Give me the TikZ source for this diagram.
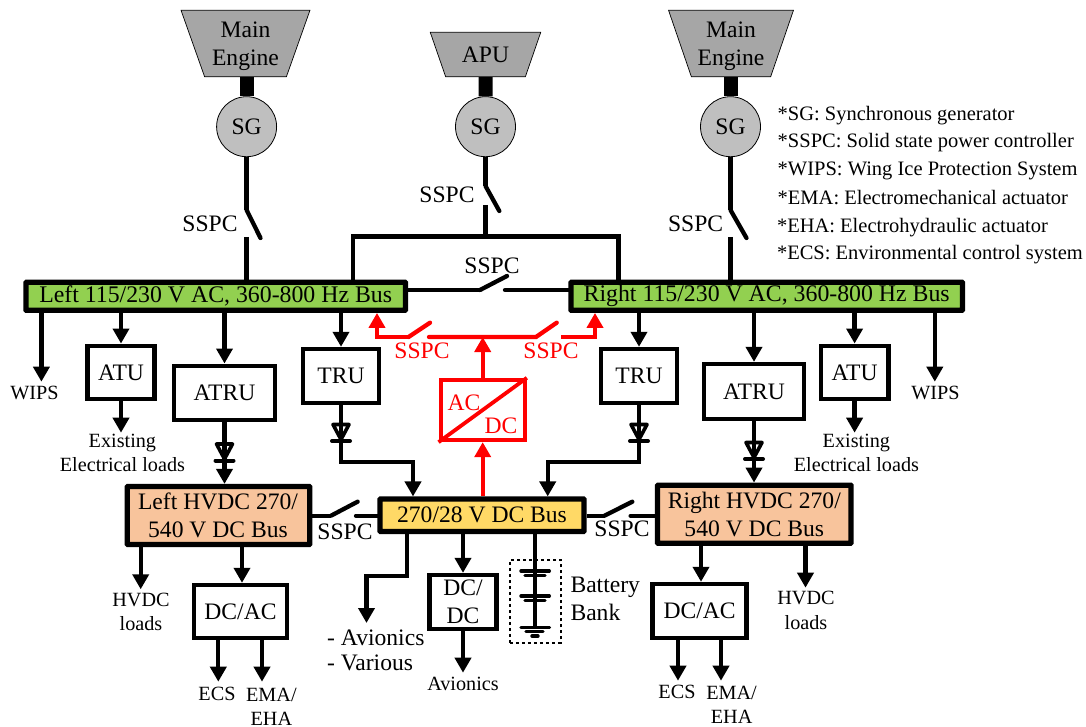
\documentclass[tikz,border=0pt]{standalone}
\usepackage{fontspec}
\setmainfont{Liberation Serif}
\usetikzlibrary{arrows.meta,shapes.geometric}
\definecolor{busgreen}{HTML}{92D050}
\definecolor{busorange}{HTML}{F8C49C}
\definecolor{busyellow}{HTML}{FFD966}
\definecolor{enggray}{HTML}{A6A6A6}
\definecolor{sggray}{HTML}{BFBFBF}
\tikzset{
  big/.style={font=\fontsize{23.6}{28}\selectfont,inner sep=0pt,align=center},
  small/.style={font=\fontsize{20.2}{24.5}\selectfont,inner sep=0pt,align=center},
  legend/.style={font=\fontsize{20.5}{24}\selectfont,inner sep=0pt,anchor=base west},
  wire/.style={line width=4.3pt,line cap=butt},
  arr/.style={wire,-{Triangle[length=15pt,width=16pt]}},
  redwire/.style={wire,red},
  redarr/.style={arr,red},
  conv/.style={big,draw,line width=4.3pt,fill=white,rectangle},
  bus/.style={big,draw,line width=5.2pt,rectangle,rounded corners=0.5pt},
  engine/.style={big,draw,line width=0.7pt,fill=enggray,trapezium,shape border rotate=180,
    trapezium stretches=true},
  gen/.style={big,draw,line width=0.8pt,fill=sggray,circle,minimum size=60pt},
  shaft/.style={line width=14pt},
  diodeline/.style={line width=3.6pt},
  battbar/.style={line width=3.4pt,line cap=round},
}
% diode: centre x, top y
\newcommand{\diodeat}[2]{%
  \draw[diodeline,line join=round] (#1-8,#2) -- (#1+8,#2) -- (#1,#2+15) -- cycle;
  \draw[diodeline,line width=4pt,line cap=round] (#1-9,#2+16.5) -- (#1+9,#2+16.5);}
\begin{document}
\begin{tikzpicture}[x=1pt,y=-1pt]
\useasboundingbox (0,0) rectangle (1086,727);
% Engines
\node[engine,trapezium left angle=68.4,trapezium right angle=68.4,minimum width=129pt,minimum height=66.5pt] (engL) at (245.5,43.6) {\phantom{Main}\\\phantom{Engine}};
\node[big] (engLt) at (245.5,46) {Main\\Engine};
\node[engine,trapezium left angle=60,trapezium right angle=60,minimum width=111pt,minimum height=44.5pt] (apu) at (485.5,54.6) {APU};
\node[engine,trapezium left angle=68.4,trapezium right angle=68.4,minimum width=125pt,minimum height=66.5pt] (engR) at (731,43.6) {\phantom{Main}\\\phantom{Engine}};
\node[big] (engRt) at (731,46) {Main\\Engine};
\node[gen] (sgL) at (246.6,126.7) {SG};
\node[gen] (sgA) at (485.5,126.7) {SG};
\node[gen] (sgR) at (730.5,126.7) {SG};
\draw[shaft] (sgL.north |- engL.south) -- (sgL.north);
\draw[shaft] (apu.south) -- (sgA.north);
\draw[shaft] (sgR.north |- engR.south) -- (sgR.north);
% Buses
\node[bus,fill=busgreen,minimum width=379.5pt,minimum height=28pt] (busL) at (215.7,296.3) {\fontsize{23.8}{28}\selectfont\raisebox{-1.5pt}{Left 115/230 V AC, 360-800 Hz Bus}};
\node[bus,fill=busgreen,minimum width=391.5pt,minimum height=28pt] (busR) at (766.7,296.3) {\fontsize{23.8}{28}\selectfont\raisebox{-1.5pt}{Right 115/230 V AC, 360-800 Hz Bus}};
\node[bus,fill=busorange,minimum width=182.5pt,minimum height=58pt] (hvL) at (218.5,515.5) {};
\node[big] (hvLt) at (218,515.3) {Left HVDC 270/\\540 V DC Bus};
\node[bus,fill=busorange,minimum width=193.5pt,minimum height=58pt] (hvR) at (754.3,514.2) {};
\node[big] (hvRt) at (754.3,514) {Right HVDC 270/\\540 V DC Bus};
\node[bus,fill=busyellow,minimum width=204pt,minimum height=32.5pt] (busD) at (482,515.3) {\raisebox{-1.5pt}{270/28 V DC Bus}};
% Converters
\node[conv,minimum width=67pt,minimum height=53.6pt] (atuL) at (121,372.5) {ATU};
\node[conv,minimum width=100.5pt,minimum height=54.3pt] (atruL) at (224.5,392.8) {ATRU};
\node[conv,minimum width=76pt,minimum height=53.7pt] (truL) at (341,375.8) {TRU};
\node[conv,minimum width=75.6pt,minimum height=53.7pt] (truR) at (639,375.8) {TRU};
\node[conv,minimum width=100pt,minimum height=55pt] (atruR) at (754,391.5) {ATRU};
\node[conv,minimum width=67.6pt,minimum height=53.6pt] (atuR) at (854.6,372.5) {ATU};
\node[conv,minimum width=93.2pt,minimum height=52.7pt] (dcacL) at (240.5,611.3) {DC/AC};
\node[conv,minimum width=94pt,minimum height=53.7pt] (dcacR) at (699.6,610.8) {DC/AC};
\node[conv,minimum width=67.2pt,minimum height=54pt] (dcdc) at (463,602) {DC/\\DC};
\node[conv,draw=red,minimum width=84pt,minimum height=60pt] (acdc) at (482.7,410) {};
\draw[line width=3.8pt,red] (acdc.north east) -- (acdc.south west);
\node[big,red] (acT) at (464,402.7) {AC};
\node[big,red] (dcT) at (501,426) {DC};
% Generator lines and switches
\coordinate (swLa) at (246.6,210); \coordinate (swLb) at (260.5,238); \coordinate (swLc) at (246.6,237);
\draw[wire] (sgL.south) -- (swLa); \draw[wire,line cap=round] (swLa) -- (swLb); \draw[wire] (swLc) -- (swLc |- busL.north);
\coordinate (swAa) at (485.5,186); \coordinate (swAb) at (499.3,211); \coordinate (swAc) at (485.5,205); \coordinate (apuJ) at (485.5,236.5);
\draw[wire] (sgA.south) -- (swAa); \draw[wire,line cap=round] (swAa) -- (swAb); \draw[wire] (swAc) -- (apuJ);
\coordinate (tieL) at (353,236.5); \coordinate (tieR) at (618.4,236.5);
\draw[wire,line join=miter] (tieL |- busL.north) -- (tieL) -- (tieR) -- (tieR |- busR.north);
\coordinate (swRa) at (730.5,210); \coordinate (swRb) at (746.5,238); \coordinate (swRc) at (730.5,237);
\draw[wire] (sgR.south) -- (swRa); \draw[wire,line cap=round] (swRa) -- (swRb); \draw[wire] (swRc) -- (swRc |- busR.north);
\node[big] (lsL) at (210,224) {SSPC};
\node[big] (lsA) at (447,195) {SSPC};
\node[big] (lsR) at (695.6,224) {SSPC};
\node[big] (lsT) at (492,266) {SSPC};
% Bus tie
\coordinate (tA) at (480,290); \coordinate (tB) at (507,276); \coordinate (tC) at (505,290);
\draw[wire] (busL.east |- tA) -- (tA); \draw[wire,line cap=round] (tA) -- (tB); \draw[wire,line cap=round] (tC) -- (busR.west |- tC);
% Left branch arrows
\coordinate (wipsLe) at (41.4,381.7); \coordinate (wipsRe) at (934.8,381.7);
\draw[arr] (busL.south -| wipsLe) -- (wipsLe);
\draw[arr] (busR.south -| wipsRe) -- (wipsRe);
\draw[arr] (busL.south -| atuL) -- (atuL.north);
\draw[arr] (busL.south -| atruL) -- (atruL.north);
\draw[arr] (busL.south -| truL) -- (truL.north);
\draw[arr] (busR.south -| truR) -- (truR.north);
\draw[arr] (busR.south -| atruR) -- (atruR.north);
\draw[arr] (busR.south -| atuR) -- (atuR.north);
\node[small] (wipsL) at (34.5,393.3) {WIPS};
\node[small] (wipsR) at (935.5,393.3) {WIPS};
\coordinate (exLe) at (121,432.7); \coordinate (exRe) at (854.6,432.7);
\draw[arr] (atuL.south) -- (exLe);
\draw[arr] (atuR.south) -- (exRe);
\node[small] (exL) at (122.4,452.8) {Existing\\Electrical loads};
\node[small] (exR) at (856.4,452.8) {Existing\\Electrical loads};
% ATRU to HVDC
\draw[arr] (atruL.south) -- (atruL.south |- hvL.north);
\draw[arr] (atruR.south) -- (atruR.south |- hvR.north);
\diodeat{224.5}{444}
\diodeat{754}{442.5}
% TRU to DC bus
\coordinate (kL) at (413,462.3); \coordinate (kR) at (547.7,462.3);
\draw[arr] (truL.south) -- (truL.south |- kL) -- (kL) -- (kL |- busD.north);
\draw[arr] (truR.south) -- (truR.south |- kR) -- (kR) -- (kR |- busD.north);
\diodeat{341}{424.5}
\diodeat{639}{424.5}
% Red path
\coordinate (rA) at (377,337); \coordinate (rB) at (408.6,337); \coordinate (rC) at (430,322.7);
\coordinate (rD) at (429,337); \coordinate (rE) at (536,337); \coordinate (rF) at (556.7,322.7);
\coordinate (rG) at (561,337); \coordinate (rH) at (595,337);
\draw[redarr] (busD.north -| acdc) -- (acdc.south);
\draw[redwire,line cap=round] (rD) -- (rE) -- (rF);
\draw[redarr] (acdc.north) -- (acdc.north |- rE);
\draw[redarr,line join=miter] (rB) -- (rA) -- (rA |- busL.south);
\draw[redwire,line cap=round] (rB) -- (rC);
\draw[redarr] (rG) -- (rH) -- (rH |- busR.south);
\node[big,red] (lsRL) at (422,350.7) {SSPC};
\node[big,red] (lsRR) at (551,350.7) {SSPC};
% HVDC switches
\coordinate (dA) at (331,515.7); \coordinate (dB) at (357.6,501.7); \coordinate (dC) at (356,515.7);
\draw[wire] (hvL.east |- dA) -- (dA); \draw[wire,line cap=round] (dA) -- (dB); \draw[wire,line cap=round] (dC) -- (busD.west |- dC);
\coordinate (eA) at (604.5,515.7); \coordinate (eB) at (632.3,501.7); \coordinate (eC) at (630.6,515.7);
\draw[wire] (busD.east |- eA) -- (eA); \draw[wire,line cap=round] (eA) -- (eB); \draw[wire,line cap=round] (eC) -- (hvR.west |- eC);
\node[big] (lsDL) at (345,531.7) {SSPC};
\node[big] (lsDR) at (622,529) {SSPC};
% HVDC loads
\coordinate (hlL) at (140.7,589.3); \coordinate (hlR) at (805.5,587.7);
\draw[arr] (hvL.south -| hlL) -- (hlL);
\draw[arr] (hvR.south -| hlR) -- (hlR);
\node[small] (hvlL) at (141,612) {HVDC\\loads};
\node[small] (hvlR) at (806,610.5) {HVDC\\loads};
\coordinate (fL) at (242,583); \coordinate (fR) at (701,582);
\draw[arr] (hvL.south -| fL) -- (dcacL.north -| fL);
\draw[arr] (hvR.south -| fR) -- (dcacR.north -| fR);
% DC/AC outputs
\coordinate (ecsL) at (218.3,681.7); \coordinate (emaL) at (262,681.7);
\coordinate (ecsR) at (678,680.7); \coordinate (emaR) at (721,680.7);
\draw[arr] (dcacL.south -| ecsL) -- (ecsL);
\draw[arr] (dcacL.south -| emaL) -- (emaL);
\draw[arr] (dcacR.south -| ecsR) -- (ecsR);
\draw[arr] (dcacR.south -| emaR) -- (emaR);
\node[small] (ecsLt) at (217,694) {ECS};
\node[small] (emaLt) at (271.4,694.5) {EMA/};
\node[small] (ehaLt) at (271.4,718.5) {EHA};
\node[small] (ecsRt) at (677,692) {ECS};
\node[small] (emaRt) at (731.6,692.5) {EMA/};
\node[small] (ehaRt) at (731.6,717) {EHA};
% DC bus outputs
\coordinate (aA) at (407,576); \coordinate (aB) at (366.5,576); \coordinate (aC) at (366.5,623);
\draw[arr,line join=miter] (busD.south -| aA) -- (aA) -- (aB) -- (aC);
\node[big,font=\fontsize{23.6}{25}\selectfont,align=left,anchor=north west] (avv) at (327,630) {- Avionics\\- Various};
\draw[arr] (busD.south -| dcdc) -- (dcdc.north);
\coordinate (avE) at (463,672.7);
\draw[arr] (dcdc.south) -- (avE);
\node[small] (avT) at (463,684) {Avionics};
% Battery
\coordinate (bT) at (535,627.3);
\draw[wire] (busD.south -| bT) -- (bT);
\draw[battbar] (521,571) -- (549.3,571);
\draw[battbar] (525,575.5) -- (545,575.5);
\draw[battbar] (521,596) -- (549.3,596);
\draw[battbar] (525,600.7) -- (545,600.7);
\draw[battbar] (521,627.3) -- (549.5,627.3);
\draw[battbar] (526,631.7) -- (543,631.7);
\draw[battbar] (532,636) -- (538,636);
\node[draw,dashed,line width=1.8pt,minimum width=50.7pt,minimum height=82.7pt,inner sep=0pt] (battbox) at (535.3,601.3) {};
\node[big,align=left,anchor=west] (battT) at (570.3,598.5) {Battery\\Bank};
% Legend
\node[legend] (l1) at (777.5,120.7) {*SG: Synchronous generator};
\node[legend] (l2) at (777.5,148) {*SSPC: Solid state power controller};
\node[legend] (l3) at (777.5,175.7) {*WIPS: Wing Ice Protection System};
\node[legend] (l4) at (777.5,204.3) {*EMA: Electromechanical actuator};
\node[legend] (l5) at (776.8,232.7) {*EHA: Electrohydraulic actuator};
\node[legend] (l6) at (776.8,259) {*ECS: Environmental control system};
\end{tikzpicture}
\end{document}
